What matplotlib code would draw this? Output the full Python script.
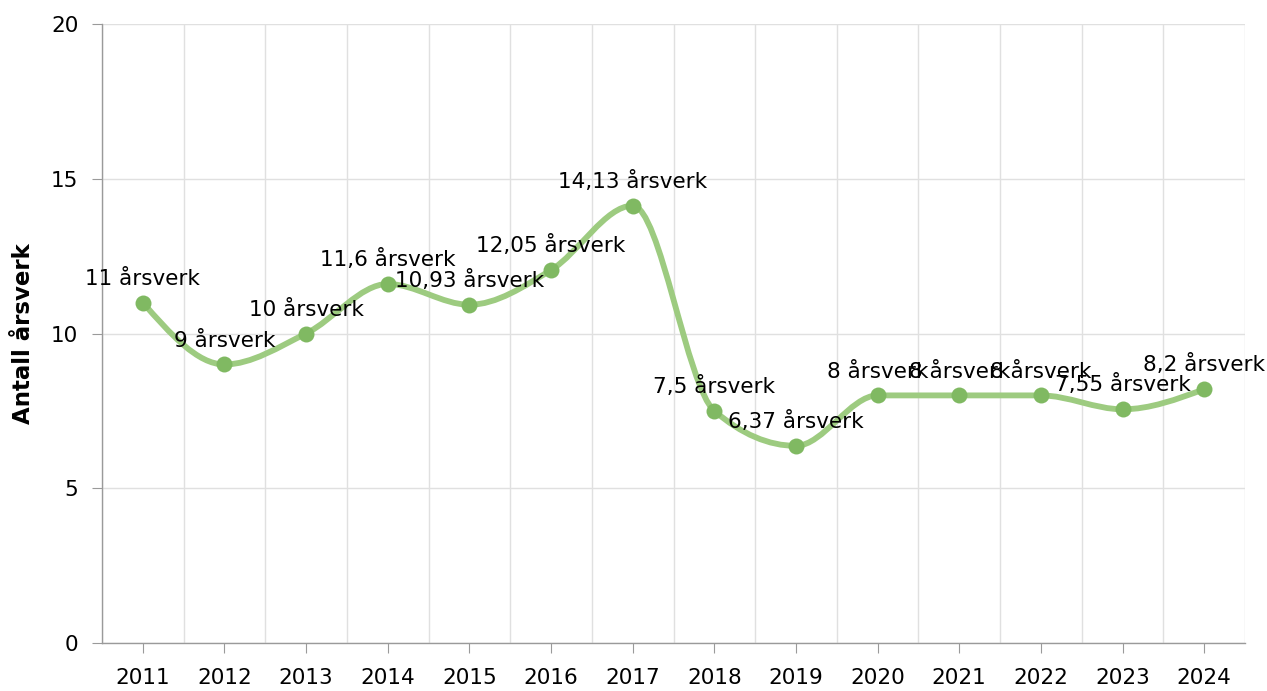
import matplotlib
matplotlib.use("Agg")
import matplotlib.pyplot as plt
import numpy as np
from matplotlib.path import Path
from matplotlib.patches import PathPatch
from matplotlib.ticker import MultipleLocator

years = ["2011", "2012", "2013", "2014", "2015", "2016", "2017",
         "2018", "2019", "2020", "2021", "2022", "2023", "2024"]
values = [11, 9, 10, 11.6, 10.93, 12.05, 14.13, 7.5, 6.37, 8, 8, 8, 7.55, 8.2]
labels = ["11 årsverk", "9 årsverk", "10 årsverk", "11,6 årsverk", "10,93 årsverk",
          "12,05 årsverk", "14,13 årsverk", "7,5 årsverk", "6,37 årsverk",
          "8 årsverk", "8 årsverk", "8 årsverk", "7,55 årsverk", "8,2 årsverk"]

line_color = "#9dcb80"
marker_color = "#80b962"
grid_color = "#e0e0e0"
axis_color = "#9a9a9a"

plt.rcParams['font.family'] = ['DejaVu Sans']

fig = plt.figure(figsize=(12.67, 6.91), dpi=100)
ax = fig.add_axes([102/1267, 48/691, (1245-102)/1267, (643-24)/691])

x = np.arange(len(values), dtype=float)
y = np.array(values, dtype=float)
n = len(x)

# monotone cubic (d3 curveMonotoneX style) tangents
h = np.diff(x)
s = np.diff(y) / h
m = np.zeros(n)
for i in range(1, n - 1):
    p = (s[i-1] * h[i] + s[i] * h[i-1]) / (h[i-1] + h[i])
    m[i] = (np.sign(s[i-1]) + np.sign(s[i])) * min(abs(s[i-1]), abs(s[i]), 0.5 * abs(p))
m[0] = (3 * s[0] - m[1]) / 2
m[-1] = (3 * s[-1] - m[-2]) / 2

verts = [(x[0], y[0])]
codes = [Path.MOVETO]
for i in range(n - 1):
    d = h[i] / 3
    verts += [(x[i] + d, y[i] + m[i] * d), (x[i+1] - d, y[i+1] - m[i+1] * d), (x[i+1], y[i+1])]
    codes += [Path.CURVE4] * 3
patch = PathPatch(Path(verts, codes), facecolor="none", edgecolor=line_color,
                  lw=4.2, capstyle="round", joinstyle="round", zorder=3)
ax.add_patch(patch)

ax.plot(x, y, linestyle="none", marker="o", markersize=11.5,
        color=marker_color, markeredgewidth=0, zorder=4)

for xi, yi, lab in zip(x, y, labels):
    ax.annotate(lab, (xi, yi), xytext=(0, 10), textcoords="offset points",
                ha="center", va="bottom", fontsize=15.5, color="#000000", zorder=5)

ax.set_xlim(-0.5, n - 0.5)
ax.set_ylim(0, 20)
ax.set_xticks(x)
ax.set_xticklabels(years)
ax.xaxis.set_minor_locator(MultipleLocator(1, offset=0.5))
ax.yaxis.set_major_locator(MultipleLocator(5))

ax.grid(True, which="minor", axis="x", color=grid_color, lw=1)
ax.grid(True, which="major", axis="y", color=grid_color, lw=1)
ax.set_axisbelow(True)

for sp in ["top", "right"]:
    ax.spines[sp].set_visible(False)
for sp in ["left", "bottom"]:
    ax.spines[sp].set_color(axis_color)
    ax.spines[sp].set_linewidth(1)

ax.tick_params(axis="both", which="major", length=7, color=axis_color,
               labelsize=15.5, labelcolor="#000000")
ax.tick_params(axis="x", which="major", pad=11)
ax.tick_params(axis="y", which="major", pad=10)
ax.tick_params(axis="x", which="minor", length=0)

ax.set_ylabel("Antall årsverk", fontsize=16.5, fontweight="bold")
ax.yaxis.set_label_coords((35 - 102) / 1143, 0.5)

fig.savefig("out.png", dpi=100)
